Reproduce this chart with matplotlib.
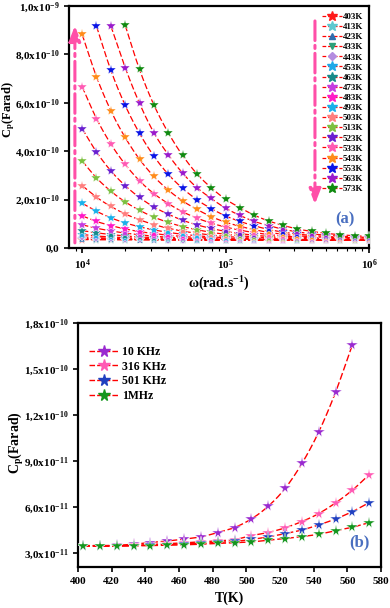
import matplotlib.pyplot as plt
import numpy as np

plt.rcParams['font.family'] = ['Liberation Serif', 'DejaVu Serif']
plt.rcParams['font.weight'] = 'bold'
plt.rcParams['mathtext.fontset'] = 'custom'
plt.rcParams['mathtext.rm'] = 'Liberation Serif:bold'
plt.rcParams['mathtext.it'] = 'Liberation Serif:bold'
plt.rcParams['mathtext.bf'] = 'Liberation Serif:bold'

# ---------------- panel (a) data: Cp vs omega, values in 1e-10 F
omega = 10 ** (4 + 0.1 * np.arange(21))

temps_a = ['403K', '413K', '423K', '433K', '443K', '453K', '463K', '473K', '483K',
           '493K', '503K', '513K', '523K', '533K', '543K', '553K', '563K', '573K']

cp_403 = [0.35, 0.35, 0.35, 0.35, 0.35, 0.34, 0.34, 0.34, 0.34, 0.34, 0.34, 0.34, 0.34, 0.34, 0.34, 0.34, 0.34, 0.34, 0.34, 0.34, 0.34]
cp_413 = [0.36, 0.35, 0.35, 0.35, 0.35, 0.35, 0.34, 0.34, 0.34, 0.34, 0.34, 0.34, 0.34, 0.34, 0.34, 0.34, 0.34, 0.34, 0.34, 0.34, 0.34]
cp_423 = [0.38, 0.37, 0.36, 0.36, 0.35, 0.35, 0.35, 0.34, 0.34, 0.34, 0.34, 0.34, 0.34, 0.34, 0.34, 0.34, 0.34, 0.34, 0.34, 0.34, 0.33]
cp_433 = [0.41, 0.39, 0.37, 0.36, 0.36, 0.35, 0.35, 0.35, 0.34, 0.34, 0.34, 0.34, 0.34, 0.34, 0.34, 0.34, 0.34, 0.33, 0.33, 0.33, 0.33]
cp_443 = [0.46, 0.43, 0.40, 0.38, 0.37, 0.36, 0.35, 0.35, 0.34, 0.34, 0.34, 0.34, 0.34, 0.34, 0.33, 0.33, 0.33, 0.33, 0.33, 0.33, 0.33]
cp_453 = [0.56, 0.50, 0.46, 0.43, 0.40, 0.38, 0.37, 0.36, 0.35, 0.34, 0.34, 0.34, 0.34, 0.33, 0.33, 0.33, 0.33, 0.33, 0.33, 0.33, 0.33]
cp_463 = [0.72, 0.63, 0.56, 0.50, 0.46, 0.43, 0.40, 0.39, 0.37, 0.36, 0.35, 0.35, 0.34, 0.34, 0.33, 0.33, 0.33, 0.33, 0.33, 0.33, 0.33]
cp_473 = [0.96, 0.82, 0.71, 0.62, 0.55, 0.49, 0.45, 0.42, 0.40, 0.38, 0.37, 0.36, 0.35, 0.34, 0.34, 0.33, 0.33, 0.33, 0.33, 0.33, 0.33]
cp_483 = [1.33, 1.10, 0.93, 0.79, 0.68, 0.60, 0.53, 0.48, 0.44, 0.41, 0.39, 0.37, 0.36, 0.35, 0.34, 0.34, 0.33, 0.33, 0.33, 0.33, 0.33]
cp_493 = [1.85, 1.52, 1.25, 1.04, 0.88, 0.75, 0.65, 0.57, 0.51, 0.46, 0.43, 0.40, 0.38, 0.37, 0.36, 0.35, 0.34, 0.34, 0.34, 0.33, 0.33]
cp_503 = [2.58, 2.10, 1.72, 1.41, 1.17, 0.97, 0.82, 0.70, 0.61, 0.54, 0.48, 0.44, 0.41, 0.39, 0.37, 0.36, 0.35, 0.35, 0.34, 0.34, 0.34]
cp_513 = [3.60, 2.90, 2.35, 1.91, 1.56, 1.28, 1.06, 0.89, 0.76, 0.65, 0.57, 0.51, 0.46, 0.43, 0.40, 0.38, 0.37, 0.36, 0.35, 0.35, 0.34]
cp_523 = [4.94, 3.97, 3.19, 2.58, 2.09, 1.70, 1.40, 1.15, 0.96, 0.81, 0.69, 0.60, 0.53, 0.48, 0.44, 0.41, 0.39, 0.38, 0.37, 0.36, 0.35]
cp_533 = [6.67, 5.35, 4.30, 3.46, 2.78, 2.25, 1.84, 1.50, 1.24, 1.03, 0.87, 0.74, 0.64, 0.56, 0.50, 0.46, 0.43, 0.41, 0.39, 0.38, 0.37]
cp_543 = [8.83, 7.08, 5.68, 4.57, 3.67, 2.96, 2.40, 1.95, 1.60, 1.30, 1.07, 0.90, 0.76, 0.65, 0.57, 0.51, 0.47, 0.44, 0.42, 0.40, 0.39]
cp_553 = [np.nan, 9.17, 7.35, 5.90, 4.74, 3.80, 3.05, 2.47, 2.00, 1.63, 1.33, 1.10, 0.92, 0.77, 0.66, 0.58, 0.52, 0.48, 0.45, 0.43, 0.41]
cp_563 = [np.nan, np.nan, 9.18, 7.46, 5.98, 4.77, 3.86, 3.10, 2.50, 2.05, 1.65, 1.35, 1.10, 0.93, 0.78, 0.67, 0.59, 0.53, 0.49, 0.46, 0.44]
cp_573 = [np.nan, np.nan, np.nan, 9.21, 7.38, 5.92, 4.77, 3.83, 3.07, 2.49, 2.02, 1.67, 1.36, 1.12, 0.94, 0.79, 0.69, 0.61, 0.55, 0.51, 0.48]

series_a = [cp_403, cp_413, cp_423, cp_433, cp_443, cp_453, cp_463, cp_473, cp_483,
            cp_493, cp_503, cp_513, cp_523, cp_533, cp_543, cp_553, cp_563, cp_573]

colors_a = ['#ff1a1a', '#5cc8d0', '#2e6fb0', '#2ea07a', '#b48ce0', '#1ea8e8', '#168a8a',
            '#c43ce0', '#ff1ac8', '#1ab0ea', '#ff7f7f', '#7cc040', '#6a1fd0', '#ff5ab4',
            '#ff8c1a', '#0a14e6', '#9a1acc', '#108a10']
markers_a = ['*', '*', '^', 'v', 'D', '*', '*', '*', '*', '*', '*', '*', '*', '*', '*', '*', '*', '*']

# ---------------- panel (b) data: Cp vs T, values in 1e-11 F
T = [403, 413, 423, 433, 443, 453, 463, 473, 483, 493, 503, 513, 523, 533, 543, 553, 563, 573]
freq_labels = ['10 KHz', '316 KHz', '501 KHz', '1MHz']
cp_10k = [3.48, 3.48, 3.50, 3.57, 3.68, 3.78, 3.90, 4.05, 4.33, 4.66, 5.22, 6.05, 7.21, 8.84, 10.9, 13.5, 16.6, np.nan]
cp_316k = [3.46, 3.46, 3.47, 3.50, 3.55, 3.60, 3.66, 3.72, 3.78, 3.87, 4.13, 4.33, 4.64, 5.05, 5.57, 6.27, 7.10, 8.12]
cp_501k = [3.46, 3.45, 3.46, 3.48, 3.52, 3.55, 3.59, 3.64, 3.69, 3.75, 3.88, 4.05, 4.26, 4.50, 4.83, 5.22, 5.70, 6.29]
cp_1m = [3.46, 3.44, 3.45, 3.46, 3.48, 3.50, 3.53, 3.57, 3.62, 3.66, 3.72, 3.83, 3.94, 4.07, 4.22, 4.46, 4.68, 4.98]
series_b = [cp_10k, cp_316k, cp_501k, cp_1m]
colors_b = ['#9a2ad0', '#ff5ab4', '#2040c0', '#14961e']


def smooth(x, y, n=12):
    # catmull-rom curve through the points (for the red guide lines)
    x = np.asarray(x, float)
    y = np.asarray(y, float)
    ok = ~np.isnan(y)
    x, y = x[ok], y[ok]
    px = np.concatenate([[2 * x[0] - x[1]], x, [2 * x[-1] - x[-2]]])
    py = np.concatenate([[2 * y[0] - y[1]], y, [2 * y[-1] - y[-2]]])
    t = np.linspace(0, 1, n, endpoint=False)
    xs, ys = [], []
    for i in range(1, len(px) - 2):
        for p, out in ((px, xs), (py, ys)):
            p0, p1, p2, p3 = p[i - 1], p[i], p[i + 1], p[i + 2]
            out.append(0.5 * (2 * p1 + (-p0 + p2) * t + (2 * p0 - 5 * p1 + 4 * p2 - p3) * t ** 2
                              + (-p0 + 3 * p1 - 3 * p2 + p3) * t ** 3))
    xs.append([x[-1]])
    ys.append([y[-1]])
    return np.concatenate(xs), np.concatenate(ys)


# ---------------------------------
fig = plt.figure(figsize=(3.9, 6.08), dpi=100)
ax1 = fig.add_axes([0.177, 0.592, 0.769, 0.398])
ax2 = fig.add_axes([0.200, 0.0674, 0.777, 0.401])

logw = np.log10(omega)
for lab, vals, c, m in zip(temps_a, series_a, colors_a, markers_a):
    y = np.array(vals) * 1e-10
    sx, sy = smooth(logw, y)
    ax1.plot(10 ** sx, sy, '--', color='red', lw=0.9, dashes=(5, 2), zorder=2)
    ms = 7.5 if m == '*' else 4.5
    ax1.plot(omega, y, linestyle='none', marker=m, color=c, ms=ms, mec='white',
             mew=0.3, zorder=3)
    ax1.plot([], [], '--', color='red', lw=0.9, dashes=(3, 1.5), marker=m, ms=ms,
             mfc=c, mec=c, label=lab)

ax1.set_xscale('log')
ax1.set_xlim(8.1e3, 1e6)
ax1.set_ylim(0, 1e-9)
ax1.set_yticks([0, 2e-10, 4e-10, 6e-10, 8e-10, 1e-9])
ax1.set_yticklabels(['0,0', r'2,0x10$^{-10}$', r'4,0x10$^{-10}$', r'6,0x10$^{-10}$',
                     r'8,0x10$^{-10}$', r'1,0x10$^{-9}$'])
ax1.set_xticks([1e4, 1e5, 1e6])
ax1.set_xticklabels([r'10$^{4}$', r'10$^{5}$', r'10$^{6}$'])
ax1.set_xlabel(r'$\omega$(rad.s$^{-1}$)', fontsize=10, fontweight='bold', labelpad=2)
ax1.set_ylabel(r'C$_{\rm p}$(Farad)', fontsize=9, fontweight='bold')
ax1.yaxis.set_label_coords(-0.175, 0.57)
leg = ax1.legend(loc='upper right', fontsize=6.5, frameon=False, handlelength=2.2,
                 handletextpad=0.1, labelspacing=0.2, borderaxespad=0.2,
                 bbox_to_anchor=(1.0, 0.995))
ax1.text(0.92, 0.12, '(a)', transform=ax1.transAxes, color='#4a6fc0', fontsize=12,
         fontweight='bold', ha='center', va='center')

# pink arrows
ax1.annotate('', xy=(8.9e3, 9.3e-10), xytext=(8.9e3, 0.1e-10),
             arrowprops=dict(arrowstyle='-|>,head_width=0.35,head_length=0.9',
                             color='#ff4fa8', lw=2.2, linestyle='-.'))
ax1.annotate('', xy=(0.82, 0.17), xytext=(0.82, 0.95), xycoords='axes fraction',
             arrowprops=dict(arrowstyle='-|>,head_width=0.35,head_length=0.9',
                             color='#ff4fa8', lw=2.2, linestyle='-.'))

for lab, vals, c in zip(freq_labels, series_b, colors_b):
    y = np.array(vals) * 1e-11
    sx, sy = smooth(T, y)
    ax2.plot(sx, sy, '--', color='red', lw=1.0, dashes=(5, 2), zorder=2)
    ax2.plot(T, y, linestyle='none', marker='*', color=c, ms=8.5, mec='white',
             mew=0.3, zorder=3)
    ax2.plot([], [], '--', color='red', lw=1.0, dashes=(4, 1.5), marker='*', ms=8.5,
             mfc=c, mec=c, label=lab)

ax2.set_xlim(400, 580)
ax2.set_ylim(2.08e-11, 1.8e-10)
ax2.set_xticks(range(400, 581, 20))
ax2.set_yticks([3e-11, 6e-11, 9e-11, 1.2e-10, 1.5e-10, 1.8e-10])
ax2.set_yticklabels([r'3,0x10$^{-11}$', r'6,0x10$^{-11}$', r'9,0x10$^{-11}$',
                     r'1,2x10$^{-10}$', r'1,5x10$^{-10}$', r'1,8x10$^{-10}$'])
ax2.set_xlabel('T(K)', fontsize=10, fontweight='bold', labelpad=4)
ax2.set_ylabel(r'C$_{\rm p}$(Farad)', fontsize=10, fontweight='bold')
ax2.yaxis.set_label_coords(-0.17, 0.51)
ax2.legend(loc='upper left', fontsize=8.5, frameon=False, handlelength=2.6,
           handletextpad=0.2, labelspacing=0.22, bbox_to_anchor=(0.0, 0.95))
ax2.text(0.93, 0.1, '(b)', transform=ax2.transAxes, color='#4a6fc0', fontsize=12,
         fontweight='bold', ha='center', va='center')

for ax in (ax1, ax2):
    for sp in ax.spines.values():
        sp.set_linewidth(1.6)
    ax.tick_params(labelsize=8, width=1.2, length=3.5, direction='out')
    ax.tick_params(which='minor', length=2, width=0.8)

plt.savefig('out.png', dpi=100)
